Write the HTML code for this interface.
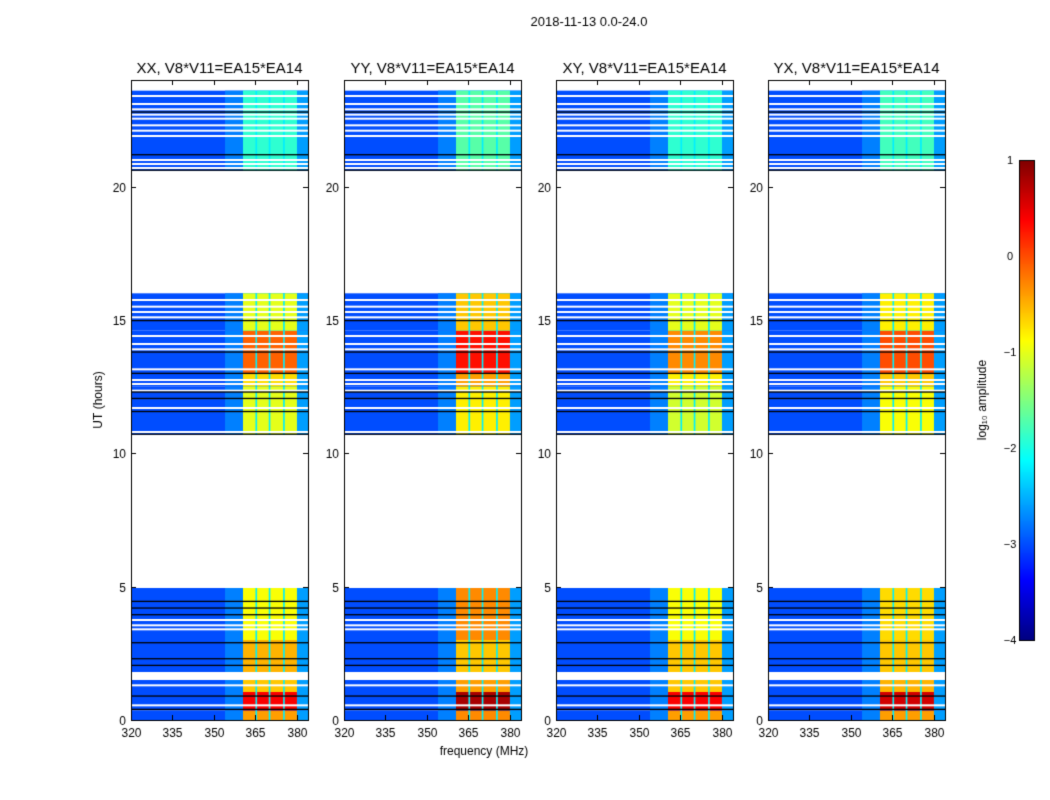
<!DOCTYPE html>
<html><head><meta charset="utf-8"><style>
body{margin:0;background:#fff;width:1050px;height:800px;overflow:hidden;font-family:"Liberation Sans",sans-serif}
canvas{position:absolute;left:0;top:0}
</style></head><body>
<canvas id="c" width="1050" height="800"></canvas>
<script>
// ---- data ----
const panelTitles = ["XX, V8*V11=EA15*EA14","YY, V8*V11=EA15*EA14","XY, V8*V11=EA15*EA14","YX, V8*V11=EA15*EA14"];
const yTicks = [0,5,10,15,20];
const xTicks = [320,335,350,365,380];
const cbTicks = [1,0,-1,-2,-3,-4];
const baseLevel = -3.0;
const edgeLevel = -2.75;
const rightLevel = -2.6;
const bandEdges = [[360.5,365.0],[365.6,369.8],[370.4,375.0],[375.6,380.0]];
const gapLevel = -2.2;
// rows: [startHour, endHour] and band log-amplitude per panel
const rowSpans = [[0,0.35],[0.35,1.05],[1.05,1.5],[1.8,3.0],[3.0,4.95],[10.7,12.5],[12.5,13.0],[13.0,14.6],[14.6,16.0],[20.6,23.6]];
const bandXX = [-0.4,0.4,-0.6,-0.5,-0.9,-1.0,-0.7,-0.1,-1.0,-1.9];
const bandYY = [-0.3,0.8,-0.4,-0.6,-0.3,-0.8,-0.4,0.3,-0.6,-1.7];
const bandXY = [-0.4,0.4,-0.6,-0.6,-0.9,-1.1,-0.8,-0.3,-1.0,-1.9];
const bandYX = [-0.4,0.6,-0.5,-0.6,-0.7,-0.9,-0.6,0.0,-0.8,-1.8];
const bandSeries = [bandXX,bandYY,bandXY,bandYX];
const whiteLines = [0.55,1.3,3.4,3.55,3.75,6.0,10.8,11.7,12.35,12.6,12.75,13.15,13.9,14.1,14.4,15.1,15.3,15.5,15.75,20.7,20.85,21.0,21.9,22.1,22.3,22.55,22.7,22.9,23.1,23.4];
const blackLines = [0.4,0.9,2.05,2.3,2.9,3.95,4.2,4.45,10.72,11.57,12.06,12.3,13.0,13.8,14.98,20.62,21.2,22.8];
// ---- layout ----
const panelLeft = [131,344,556,768];
const PW = 177, Y0 = 720, Y1 = 80;
const cv = document.getElementById('c'); const ctx = cv.getContext('2d');
function jet(v){ // v in [-4,1]
  let t=(v+4)/5; t=Math.max(0,Math.min(1,t));
  const f=x=>Math.max(0,Math.min(1,x));
  const r=f(1.5-Math.abs(4*t-3)), g=f(1.5-Math.abs(4*t-2)), b=f(1.5-Math.abs(4*t-1));
  return `rgb(${Math.round(r*255)},${Math.round(g*255)},${Math.round(b*255)})`;
}
const yS = h => Y0 - h*(Y0-Y1)/24;
const xS = (p,f) => panelLeft[p] + (f-320)/64*PW;
ctx.fillStyle='#fff';ctx.fillRect(0,0,1050,800);
ctx.font='13px "Liberation Sans", sans-serif';ctx.fillStyle='#000';ctx.textAlign='center';
ctx.fillText('2018-11-13 0.0-24.0',589,26);
for(let p=0;p<4;p++){
  const band=bandSeries[p];
  rowSpans.forEach((r,i)=>{
    const ya=yS(r[1]), yb=yS(r[0]);
    ctx.fillStyle=jet(baseLevel);ctx.fillRect(xS(p,320),ya,PW,yb-ya);
    ctx.fillStyle=jet(edgeLevel);ctx.fillRect(xS(p,354),ya,xS(p,360.5)-xS(p,354),yb-ya);
    ctx.fillStyle=jet(rightLevel);ctx.fillRect(xS(p,380),ya,xS(p,384)-xS(p,380),yb-ya);
    ctx.fillStyle=jet(gapLevel);ctx.fillRect(xS(p,360.5),ya,xS(p,380)-xS(p,360.5),yb-ya);
    bandEdges.forEach(e=>{ctx.fillStyle=jet(band[i]);ctx.fillRect(xS(p,e[0]),ya,xS(p,e[1])-xS(p,e[0]),yb-ya);});
  });
  ctx.fillStyle='#fff';whiteLines.forEach(h=>ctx.fillRect(xS(p,320),yS(h)-1,PW,2));
  ctx.fillStyle='#000';blackLines.forEach(h=>ctx.fillRect(xS(p,320),yS(h)-0.6,PW,1.3));
  ctx.strokeStyle='#000';ctx.lineWidth=1;ctx.strokeRect(panelLeft[p]+0.5,Y1+0.5,PW,Y0-Y1);
  ctx.fillStyle='#000';ctx.font='12px "Liberation Sans", sans-serif';
  yTicks.forEach(t=>{const y=Math.round(yS(t))+0.5;ctx.beginPath();ctx.moveTo(panelLeft[p],y);ctx.lineTo(panelLeft[p]+5,y);ctx.moveTo(panelLeft[p]+PW,y);ctx.lineTo(panelLeft[p]+PW-5,y);ctx.stroke();ctx.textAlign='right';ctx.fillText(String(t),panelLeft[p]-5,y+4);});
  xTicks.forEach(t=>{const x=Math.round(xS(p,t))+0.5;ctx.beginPath();ctx.moveTo(x,Y0);ctx.lineTo(x,Y0-5);ctx.moveTo(x,Y1);ctx.lineTo(x,Y1+5);ctx.stroke();ctx.textAlign='center';ctx.fillText(String(t),x,Y0+17);});
  ctx.font='15px "Liberation Sans", sans-serif';ctx.textAlign='center';
  ctx.fillText(panelTitles[p],panelLeft[p]+PW/2,73);
}
ctx.fillStyle='#000';
ctx.font='12px "Liberation Sans", sans-serif';ctx.textAlign='center';
ctx.fillText('frequency (MHz)',484,755);
ctx.save();ctx.translate(102,400);ctx.rotate(-Math.PI/2);ctx.fillText('UT (hours)',0,0);ctx.restore();
// colorbar
const CX=1019,CW=15,CT=160,CB=640;
for(let y=CT;y<CB;y++){ctx.fillStyle=jet(1-(y-CT)/(CB-CT)*5);ctx.fillRect(CX,y,CW,1);}
ctx.strokeStyle='#000';ctx.strokeRect(CX+0.5,CT+0.5,CW,CB-CT);
ctx.fillStyle='#000';
ctx.textAlign='center';ctx.font='11px "Liberation Sans", sans-serif';
cbTicks.forEach(t=>{const y=CT+(1-t)/5*(CB-CT);ctx.fillText(t<0?'\u2212'+(-t):String(t),1010,y+4);});
ctx.save();ctx.translate(986,400);ctx.rotate(-Math.PI/2);ctx.font='12px "Liberation Sans", sans-serif';ctx.fillText('log\u2081\u2080 amplitude',0,0);ctx.restore();
</script>
<div style="position:absolute;left:0;top:0;width:0;height:0;overflow:hidden">
<span>2018-11-13 0.0-24.0</span>
<span>XX, V8*V11=EA15*EA14</span>
<span>YY, V8*V11=EA15*EA14</span>
<span>XY, V8*V11=EA15*EA14</span>
<span>YX, V8*V11=EA15*EA14</span>
<span>frequency (MHz)</span>
<span>UT (hours)</span>
<span>log10 amplitude</span>
</div>
</body></html>
